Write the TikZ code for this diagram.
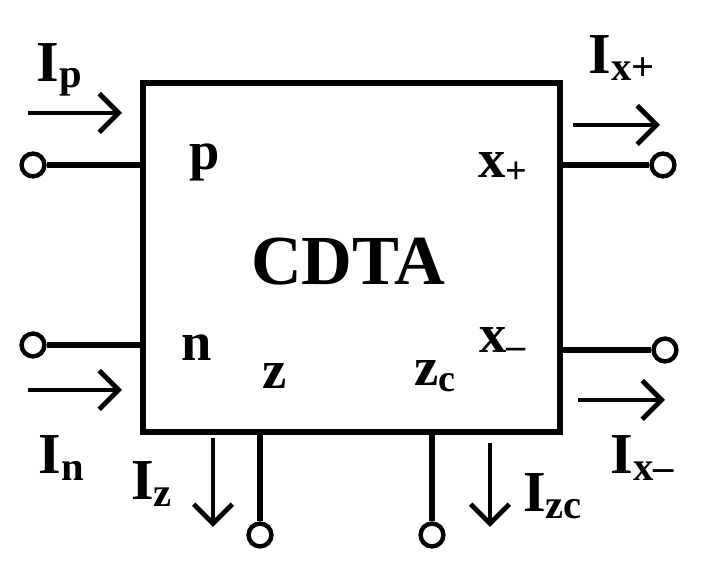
\documentclass[tikz,border=0pt]{standalone}
\usepackage{fontspec}
\setmainfont{Liberation Serif}
\usetikzlibrary{arrows.meta}
\begin{document}
\begin{tikzpicture}[x=0.02cm,y=-0.02cm,line width=3.2pt,
  term/.style={circle,draw,fill=white,minimum size=13pt,inner sep=0pt,line width=2.5pt},
  cur/.style={-{Straight Barb[length=11pt,width=22pt,line width=2.8pt]},line width=2.8pt},
  lbl/.style={font=\fontsize{33}{33}\bfseries\selectfont,inner sep=0pt},
  pin/.style={font=\fontsize{31}{31}\bfseries\selectfont,inner sep=0pt}]
\useasboundingbox (0,0) rectangle (701,573);
\draw (143,83) rectangle (560,432);
\node[term] (tp) at (33,165) {};
\node[term] (tn) at (33,345) {};
\node[term] (txp) at (663,165) {};
\node[term] (txm) at (665,350) {};
\node[term] (tz) at (260,535) {};
\node[term] (tzc) at (432,535) {};
\coordinate (bp) at (143,165);
\coordinate (bn) at (143,345);
\coordinate (bxp) at (560,165);
\coordinate (bxm) at (560,350);
\coordinate (bz) at (260,432);
\coordinate (bzc) at (432,432);
\draw (tp) -- (bp); \draw (tn) -- (bn);
\draw (txp) -- (bxp); \draw (txm) -- (bxm);
\draw (tz) -- (bz); \draw (tzc) -- (bzc);
\coordinate (a1) at (28,113); \coordinate (a2) at (122,113);
\coordinate (b1) at (28,390); \coordinate (b2) at (122,390);
\coordinate (c1) at (573,125); \coordinate (c2) at (660,125);
\coordinate (d1) at (578,400); \coordinate (d2) at (665,400);
\coordinate (e1) at (213,438); \coordinate (e2) at (213,527);
\coordinate (f1) at (490,443); \coordinate (f2) at (490,527);
\draw[cur] (a1) -- (a2); \draw[cur] (b1) -- (b2);
\draw[cur] (c1) -- (c2); \draw[cur] (d1) -- (d2);
\draw[cur] (e1) -- (e2); \draw[cur] (f1) -- (f2);
\node[lbl] (lip) at (60,70) {I\textsubscript{p}};
\node[lbl] (lin) at (62,458) {I\textsubscript{n}};
\node[lbl] (lixp) at (622,58) {I\textsubscript{x+}};
\node[lbl] (lixm) at (643,458) {I\textsubscript{x\textendash}};
\node[lbl] (liz) at (152,484) {I\textsubscript{z}};
\node[lbl] (lizc) at (553,496) {I\textsubscript{zc}};
\node[pin] (pp) at (205,162) {p};
\node[pin] (pn) at (197,348) {n};
\node[pin] (pz) at (275,376) {z};
\node[pin] (pzc) at (435,376) {z\textsubscript{c}};
\node[pin] (pxp) at (503,168) {x\textsubscript{+}};
\node[pin] (pxm) at (503,343) {x\textsubscript{\textendash}};
\node[font=\fontsize{40}{40}\bfseries\selectfont,inner sep=0pt] (cd) at (348,262) {CDTA};
\end{tikzpicture}
\end{document}
